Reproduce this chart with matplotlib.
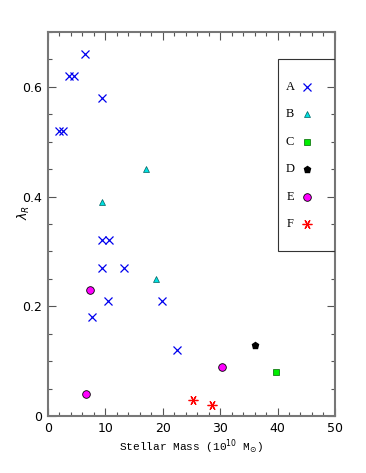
import matplotlib
matplotlib.use("Agg")
import matplotlib.pyplot as plt
from matplotlib.patches import Rectangle
from matplotlib.ticker import MultipleLocator

# stellar mass (1e10 Msun) and lambda_R per group
a_mass = [6.4, 3.7, 4.5, 9.5, 2.0, 2.7, 9.5, 10.7, 9.4, 13.3, 10.5, 19.8, 7.7, 22.5]
a_lam = [0.66, 0.62, 0.62, 0.58, 0.52, 0.52, 0.32, 0.32, 0.27, 0.27, 0.21, 0.21, 0.18, 0.12]
b_mass = [17.1, 9.5, 18.9]
b_lam = [0.45, 0.39, 0.25]
c_mass = [39.7]
c_lam = [0.08]
d_mass = [36.0]
d_lam = [0.13]
e_mass = [30.4, 7.4, 6.7]
e_lam = [0.09, 0.23, 0.04]
f_mass = [25.2, 28.6]
f_lam = [0.03, 0.02]

labels = ["A", "B", "C", "D", "E", "F"]
xticks = [0, 10, 20, 30, 40, 50]
yticks = [0, 0.2, 0.4, 0.6]
ytick_labels = ["0", "0.2", "0.4", "0.6"]

star = (6, 2, 90)
styles = [
    dict(marker="x", color="#0000ee", ms=5.5, mew=0.9, ls="none"),
    dict(marker="^", mfc="#00e0e0", mec="#006060", ms=4, mew=0.5, ls="none"),
    dict(marker="s", mfc="#00ee00", mec="#006600", ms=3.8, mew=0.5, ls="none"),
    dict(marker="p", mfc="black", mec="black", ms=5, ls="none"),
    dict(marker="o", mfc="#ff00ff", mec="black", ms=5.5, mew=0.6, ls="none"),
    dict(marker=star, color="#ff0000", ms=7, mew=0.9, ls="none"),
]
groups = [(a_mass, a_lam), (b_mass, b_lam), (c_mass, c_lam),
          (d_mass, d_lam), (e_mass, e_lam), (f_mass, f_lam)]

fig = plt.figure(figsize=(3.66, 4.73), dpi=100)
ax = fig.add_axes([0.131, 0.1205, 0.784, 0.8118])

for (xs, ys), st in zip(groups, styles):
    ax.plot(xs, ys, **st)

gray = "#777777"
for s in ax.spines.values():
    s.set_color(gray)
    s.set_linewidth(1.5)

ax.set_xticks(xticks)
ax.set_xticklabels([str(v) for v in xticks])
ax.set_yticks(yticks)
ax.set_yticklabels(ytick_labels)
ax.xaxis.set_minor_locator(MultipleLocator(2))
ax.yaxis.set_minor_locator(MultipleLocator(0.05))
ax.set_xlim(0, 50)
ax.set_ylim(0, 0.7)
ax.tick_params(which="both", direction="in", top=True, right=True,
               color="#555555", labelsize=9, pad=4)
ax.tick_params(which="major", length=6, width=0.8)
ax.tick_params(which="minor", length=3, width=0.8)

ax.set_xlabel(r"Stellar Mass (10$^{10}$ M$_{\odot}$)", family="Liberation Mono",
              fontsize=8, labelpad=2)
ax.set_ylabel(r"$\lambda_R$", fontsize=9)
ax.yaxis.set_label_coords(-0.055, 0.53)

# legend box, drawn by hand
ax.add_patch(Rectangle((40.1, 0.30), 9.9, 0.35, transform=ax.transData,
                       fill=False, ec="#333333", lw=0.8, zorder=3))
for i, (lab, st) in enumerate(zip(labels, styles)):
    yy = 0.60 - 0.05 * i
    ax.text(42.2, yy, lab, family="Liberation Serif", fontsize=9,
            ha="center", va="center")
    ax.plot([45.1], [yy], **st)

fig.savefig("out.png", dpi=100)
